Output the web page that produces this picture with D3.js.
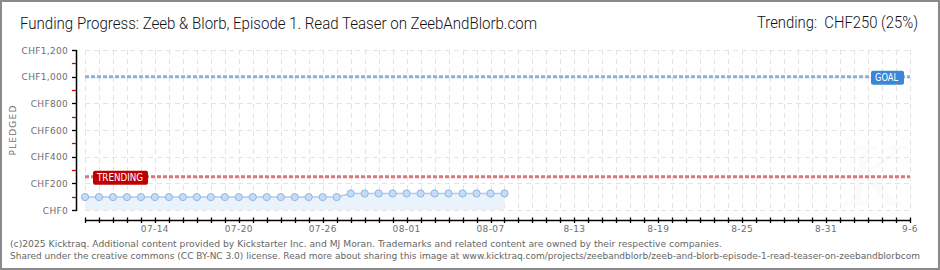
<!DOCTYPE html>
<html>
<head>
<meta charset="utf-8">
<script src="https://cdn.jsdelivr.net/npm/d3@7/dist/d3.min.js"></script>
<style>
html,body{margin:0;padding:0;background:#fff;}
svg{display:block;}
</style>
</head>
<body>
<svg id="chart" width="940" height="270"></svg>
<script>
// ---- data ----
const dates = ["2025-07-09","2025-07-10","2025-07-11","2025-07-12","2025-07-13","2025-07-14","2025-07-15","2025-07-16","2025-07-17","2025-07-18","2025-07-19","2025-07-20","2025-07-21","2025-07-22","2025-07-23","2025-07-24","2025-07-25","2025-07-26","2025-07-27","2025-07-28","2025-07-29","2025-07-30","2025-07-31","2025-08-01","2025-08-02","2025-08-03","2025-08-04","2025-08-05","2025-08-06","2025-08-07","2025-08-08"];
const pledged = [97,97,97,97,97,97,97,97,97,97,97,97,97,97,97,97,97,97,97,124,124,124,124,124,124,124,124,124,124,124,124];
const domainStart = "2025-07-09";
const domainEnd = "2025-09-06";
const xTickDates = ["2025-07-14","2025-07-20","2025-07-26","2025-08-01","2025-08-07","2025-08-13","2025-08-19","2025-08-25","2025-08-31","2025-09-06"];
const xTickLabels = ["07-14","07-20","07-26","08-01","08-07","8-13","8-19","8-25","8-31","9-6"];
const yTicks = [0,200,400,600,800,1000,1200];
const yTickLabels = ["CHF0","CHF200","CHF400","CHF600","CHF800","CHF1,000","CHF1,200"];
const yMinorTicks = [100,300,500,700,900,1100];
const goal = 1000;
const trending = 250;
const title = "Funding Progress: Zeeb & Blorb, Episode 1. Read Teaser on ZeebAndBlorb.com";
const trendingText = "Trending:  CHF250 (25%)";
const footer1 = "(c)2025 Kicktraq. Additional content provided by Kickstarter Inc. and MJ Moran. Trademarks and related content are owned by their respective companies.";
const footer2 = "Shared under the creative commons (CC BY-NC 3.0) license. Read more about sharing this image at www.kicktraq.com/projects/zeebandblorb/zeeb-and-blorb-episode-1-read-teaser-on-zeebandblorbcom";

// ---- setup ----
const parse = d3.timeParse("%Y-%m-%d");
const svg = d3.select("#chart");
const W = 940, H = 270;
const pLeft = 85, pRight = 910, pTop = 50, pBottom = 210;
const x = d3.scaleTime().domain([parse(domainStart), parse(domainEnd)]).range([pLeft, pRight]);
const y = d3.scaleLinear().domain([0, 1200]).range([pBottom, pTop]);
const data = dates.map((d, i) => ({date: parse(d), v: pledged[i]}));
const allDays = d3.timeDay.range(parse(domainStart), d3.timeDay.offset(parse(domainEnd), 1));

svg.append("rect").attr("width", W).attr("height", H).attr("fill", "#fff");

// watermark (very faint)
svg.append("text").attr("x", 875).attr("y", 205).attr("text-anchor", "middle")
  .attr("font-family", "DejaVu Serif").attr("font-style", "italic").attr("font-size", 80)
  .attr("fill", "#fbfbfb").text("K");

// grid
const grid = svg.append("g").attr("stroke", "#e3e3e3").attr("stroke-width", 1).attr("stroke-dasharray", "5,4");
grid.selectAll("line.v").data(allDays).join("line")
  .attr("x1", d => Math.round(x(d)) + 0.5).attr("x2", d => Math.round(x(d)) + 0.5)
  .attr("y1", pTop).attr("y2", pBottom);
grid.selectAll("line.h").data(yTicks).join("line")
  .attr("x1", pLeft).attr("x2", pRight)
  .attr("y1", d => Math.round(y(d)) + 0.5).attr("y2", d => Math.round(y(d)) + 0.5);

// area + line
svg.append("path").datum(data)
  .attr("fill", "#eaf3fc")
  .attr("d", d3.area().x(d => x(d.date)).y0(y(0)).y1(d => y(d.v)));
svg.append("path").datum(data)
  .attr("fill", "none").attr("stroke", "#aecbec").attr("stroke-width", 1.5)
  .attr("d", d3.line().x(d => x(d.date)).y(d => y(d.v)));

// goal & trending lines
svg.append("line").attr("x1", pLeft).attr("x2", pRight).attr("y1", y(goal)).attr("y2", y(goal))
  .attr("stroke", "#8cb0dc").attr("stroke-width", 3).attr("stroke-dasharray", "4,2");
svg.append("line").attr("x1", pLeft).attr("x2", pRight).attr("y1", y(trending)).attr("y2", y(trending))
  .attr("stroke", "#d8787c").attr("stroke-width", 3).attr("stroke-dasharray", "4,2");

svg.selectAll("circle.pt").data(data).join("circle")
  .attr("cx", d => x(d.date)).attr("cy", d => y(d.v)).attr("r", 3.6)
  .attr("fill", "#c4dcf6").attr("stroke", "#93b6df").attr("stroke-width", 1);

// labels on lines
function tag(xs, yc, w, fill, txt, tl) {
  const g = svg.append("g");
  g.append("rect").attr("x", xs).attr("y", yc - 7).attr("width", w).attr("height", 14)
    .attr("rx", 2).attr("fill", fill);
  g.append("text").attr("x", xs + 4).attr("y", yc + 3.8)
    .attr("font-family", "DejaVu Sans").attr("font-size", 10)
    .attr("textLength", tl).attr("lengthAdjust", "spacingAndGlyphs")
    .attr("fill", "#fff").text(txt);
}
tag(x(parse(domainStart)) + 8, y(trending) + 1, 55, "#bf0000", "TRENDING", 46);
tag(x(parse(domainEnd)) - 39, y(goal) + 1, 33, "#3b86d8", "GOAL", 23);

// y axis
const yAxis = svg.append("g");
yAxis.append("line").attr("x1", 76.5).attr("x2", 76.5).attr("y1", pTop).attr("y2", pBottom + 1)
  .attr("stroke", "#000").attr("stroke-width", 1.5);
yAxis.selectAll("line.maj").data(yTicks).join("line")
  .attr("x1", 72).attr("x2", 77).attr("y1", d => Math.round(y(d)) + 0.5).attr("y2", d => Math.round(y(d)) + 0.5)
  .attr("stroke", "#000").attr("stroke-width", 1.3);
yAxis.selectAll("line.min").data(yMinorTicks).join("line")
  .attr("x1", 72).attr("x2", 76).attr("y1", d => Math.round(y(d)) + 0.5).attr("y2", d => Math.round(y(d)) + 0.5)
  .attr("stroke", "#e00000").attr("stroke-width", 1.3);
yAxis.selectAll("text").data(yTicks).join("text")
  .attr("x", 68).attr("y", d => y(d) + 3.5).attr("text-anchor", "end")
  .attr("font-family", "DejaVu Sans").attr("font-size", 9).attr("letter-spacing", 0.3)
  .attr("fill", "#6e6e6e").text((d, i) => yTickLabels[i]);

svg.append("text").attr("transform", "translate(16,130) rotate(-90)").attr("text-anchor", "middle")
  .attr("font-family", "DejaVu Sans").attr("font-size", 9).attr("letter-spacing", 1.2)
  .attr("fill", "#707070").text("PLEDGED");

// x axis
const xAxis = svg.append("g");
xAxis.append("line").attr("x1", pLeft).attr("x2", pRight + 1).attr("y1", 220.5).attr("y2", 220.5)
  .attr("stroke", "#000").attr("stroke-width", 1.5);
xAxis.selectAll("line.t").data(allDays).join("line")
  .attr("x1", d => Math.round(x(d)) + 0.5).attr("x2", d => Math.round(x(d)) + 0.5)
  .attr("y1", 217.5).attr("y2", 223).attr("stroke", "#000").attr("stroke-width", 1.3);
xAxis.selectAll("text").data(xTickDates).join("text")
  .attr("x", d => x(parse(d))).attr("y", 232).attr("text-anchor", "middle")
  .attr("font-family", "DejaVu Sans").attr("font-size", 9).attr("letter-spacing", 0.4)
  .attr("fill", "#6e6e6e").text((d, i) => xTickLabels[i]);

// title
svg.append("text").attr("x", 20).attr("y", 29)
  .attr("font-family", "Roboto").attr("font-weight", 300).attr("font-size", 16)
  .attr("textLength", 517).attr("lengthAdjust", "spacingAndGlyphs")
  .attr("fill", "#111").text(title);
svg.append("text").attr("x", 918).attr("y", 28).attr("text-anchor", "end")
  .attr("font-family", "Roboto").attr("font-weight", 300).attr("font-size", 16)
  .attr("textLength", 161).attr("lengthAdjust", "spacingAndGlyphs")
  .attr("fill", "#111").style("white-space", "pre").text(trendingText);

// footer
svg.append("text").attr("x", 10).attr("y", 247)
  .attr("font-family", "DejaVu Sans").attr("font-size", 9.5).attr("fill", "#666")
  .attr("textLength", 712).attr("lengthAdjust", "spacingAndGlyphs").text(footer1);
const f2 = svg.append("text").attr("x", 0).attr("y", 0)
  .attr("font-family", "DejaVu Sans").attr("font-size", 9.5).attr("fill", "#666").text(footer2);
const nat2 = f2.node().getComputedTextLength();
const target2 = 910;
const fs2 = Math.min(9.5, 9.5 * target2 / nat2);
f2.attr("font-size", fs2)
  .attr("transform", `translate(10,259) scale(1,${9.5 / fs2})`)
  .attr("textLength", target2).attr("lengthAdjust", "spacingAndGlyphs");

// border
svg.append("rect").attr("x", 1).attr("y", 1).attr("width", W - 2).attr("height", H - 2)
  .attr("fill", "none").attr("stroke", "#8a8a8a").attr("stroke-width", 2);
</script>
</body>
</html>
